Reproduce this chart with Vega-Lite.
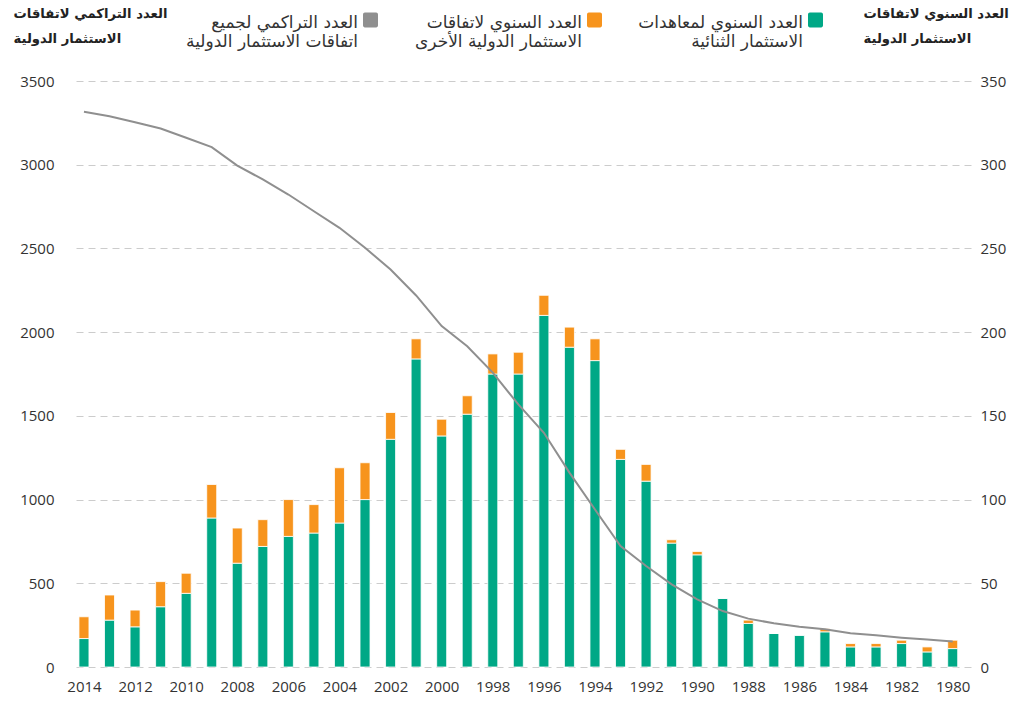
{
  "$schema": "https://vega.github.io/schema/vega-lite/v6.json",
  "width": 896,
  "height": 586,
  "autosize": "none",
  "padding": {"left": 76, "top": 81, "right": 41, "bottom": 35},
  "background": "white",
  "config": {
    "view": {"stroke": null},
    "axis": {
      "labelFont": "Open Sans",
      "labelFontSize": 15,
      "labelColor": "#333333",
      "domain": false,
      "ticks": false,
      "titleFont": "DejaVu Sans",
      "titleFontSize": 13.2,
      "titleFontWeight": "bold",
      "titleColor": "#222222",
      "titleLineHeight": 25
    },
    "legend": {
      "labelFont": "DejaVu Sans",
      "labelFontSize": 17,
      "labelColor": "#333333",
      "labelLineHeight": 25
    }
  },
  "data": {
    "values": [
      {"year": 2014, "bit": 17, "other": 13, "cum": 3316},
      {"year": 2013, "bit": 28, "other": 15, "cum": 3290},
      {"year": 2012, "bit": 24, "other": 10, "cum": 3254},
      {"year": 2011, "bit": 36, "other": 15, "cum": 3216},
      {"year": 2010, "bit": 44, "other": 12, "cum": 3161},
      {"year": 2009, "bit": 89, "other": 20, "cum": 3105},
      {"year": 2008, "bit": 62, "other": 21, "cum": 2995},
      {"year": 2007, "bit": 72, "other": 16, "cum": 2912},
      {"year": 2006, "bit": 78, "other": 22, "cum": 2822},
      {"year": 2005, "bit": 80, "other": 17, "cum": 2722},
      {"year": 2004, "bit": 86, "other": 33, "cum": 2623},
      {"year": 2003, "bit": 100, "other": 22, "cum": 2504},
      {"year": 2002, "bit": 136, "other": 16, "cum": 2374},
      {"year": 2001, "bit": 184, "other": 12, "cum": 2219},
      {"year": 2000, "bit": 138, "other": 10, "cum": 2036},
      {"year": 1999, "bit": 151, "other": 11, "cum": 1916},
      {"year": 1998, "bit": 175, "other": 12, "cum": 1758},
      {"year": 1997, "bit": 175, "other": 13, "cum": 1568},
      {"year": 1996, "bit": 210, "other": 12, "cum": 1399},
      {"year": 1995, "bit": 191, "other": 12, "cum": 1161},
      {"year": 1994, "bit": 183, "other": 13, "cum": 941},
      {"year": 1993, "bit": 124, "other": 6, "cum": 722},
      {"year": 1992, "bit": 111, "other": 10, "cum": 603},
      {"year": 1991, "bit": 74, "other": 2, "cum": 494},
      {"year": 1990, "bit": 67, "other": 2, "cum": 404},
      {"year": 1989, "bit": 41, "other": 0, "cum": 334},
      {"year": 1988, "bit": 26, "other": 2, "cum": 289},
      {"year": 1987, "bit": 20, "other": 0, "cum": 261},
      {"year": 1986, "bit": 19, "other": 0, "cum": 241},
      {"year": 1985, "bit": 21, "other": 2, "cum": 225},
      {"year": 1984, "bit": 12, "other": 2, "cum": 201},
      {"year": 1983, "bit": 12, "other": 2, "cum": 189},
      {"year": 1982, "bit": 14, "other": 2, "cum": 175},
      {"year": 1981, "bit": 9, "other": 3, "cum": 164},
      {"year": 1980, "bit": 11, "other": 5, "cum": 152}
    ]
  },
  "layer": [
    {
      "transform": [{"fold": ["bit", "other"], "as": ["key", "value"]}],
      "mark": {"type": "bar", "size": 10, "stroke": "white", "strokeWidth": 0.8},
      "encoding": {
        "x": {
          "field": "year",
          "type": "quantitative",
          "scale": {"domain": [2014.116, 1979.44], "nice": false, "zero": false},
          "axis": {
            "values": [2014, 2012, 2010, 2008, 2006, 2004, 2002, 2000, 1998, 1996, 1994, 1992, 1990, 1988, 1986, 1984, 1982, 1980],
            "format": "d",
            "title": null,
            "grid": false,
            "labelPadding": 12
          }
        },
        "y": {
          "field": "value",
          "type": "quantitative",
          "stack": "zero",
          "scale": {"domain": [0, 350], "nice": false},
          "axis": {
            "orient": "right",
            "values": [0, 50, 100, 150, 200, 250, 300, 350],
            "format": "d",
            "grid": false,
            "labelPadding": 8,
            "title": ["العدد السنوي لاتفاقات", "الاستثمار الدولية"],
            "titleAngle": 0,
            "titleAlign": "left",
            "titleBaseline": "top",
            "titleX": -109,
            "titleY": -74
          }
        },
        "color": {
          "field": "key",
          "type": "nominal",
          "scale": {"domain": ["cum", "other", "bit"], "range": ["#8f8f8f", "#f7941d", "#00a886"]},
          "legend": {
            "orient": "none",
            "legendX": 286,
            "legendY": -62,
            "direction": "horizontal",
            "title": null,
            "symbolType": "M-0.75,-2.05H0.75A0.25,0.25,0,0,1,1,-1.8V-0.3A0.25,0.25,0,0,1,0.75,-0.05H-0.75A0.25,0.25,0,0,1,-1,-0.3V-1.8A0.25,0.25,0,0,1,-0.75,-2.05Z",
            "symbolSize": 225,
            "symbolStrokeWidth": 0,
            "labelAlign": "right",
            "labelBaseline": "alphabetic",
            "labelOffset": -21,
            "labelLimit": 400,
            "columnPadding": 36,
            "labelExpr": "datum.value == 'cum' ? ['العدد التراكمي لجميع', 'اتفاقات الاستثمار الدولية'] : datum.value == 'other' ? ['العدد السنوي لاتفاقات', 'الاستثمار الدولية الأخرى'] : ['العدد السنوي لمعاهدات', 'الاستثمار الثنائية']"
          }
        },
        "order": {"field": "key", "sort": "ascending"}
      }
    },
    {
      "mark": {"type": "line", "color": "#8f8f8f", "strokeWidth": 2},
      "encoding": {
        "x": {
          "field": "year",
          "type": "quantitative",
          "scale": {"domain": [2014.116, 1979.44], "nice": false, "zero": false},
          "axis": {
            "values": [2014, 2012, 2010, 2008, 2006, 2004, 2002, 2000, 1998, 1996, 1994, 1992, 1990, 1988, 1986, 1984, 1982, 1980],
            "format": "d",
            "title": null,
            "grid": false,
            "labelPadding": 12
          }
        },
        "y": {
          "field": "cum",
          "type": "quantitative",
          "scale": {"domain": [0, 3500], "nice": false},
          "axis": {
            "orient": "left",
            "values": [0, 500, 1000, 1500, 2000, 2500, 3000, 3500],
            "format": "d",
            "grid": true,
            "gridColor": "#cccccc",
            "gridDash": [7, 5],
            "gridWidth": 1,
            "labelPadding": 22,
            "title": ["العدد التراكمي لاتفاقات", "الاستثمار الدولية"],
            "titleAngle": 0,
            "titleAlign": "left",
            "titleBaseline": "top",
            "titleX": -63,
            "titleY": -74
          }
        }
      }
    }
  ],
  "resolve": {"scale": {"y": "independent"}}
}
